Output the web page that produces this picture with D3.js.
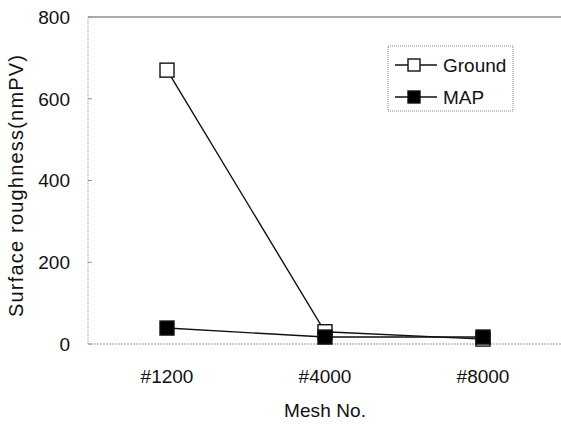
<!DOCTYPE html>
<html>
<head>
<meta charset="UTF-8">
<script src="https://d3js.org/d3.v7.min.js"></script>
<style>
  body { margin: 0; background: #fff; }
  text { font-family: "Liberation Sans", Arial, sans-serif; fill: #111; }
</style>
</head>
<body>
<div id="chart"></div>
<script>
// data
const meshes = ["#1200", "#4000", "#8000"];
const ground = [670, 30, 12];
const map = [39, 17, 17];
const yTicks = [0, 200, 400, 600, 800];

const W = 561, H = 426;
const margin = {top: 17, right: 0, bottom: 82, left: 88};
const width = W - margin.left - margin.right;
const height = H - margin.top - margin.bottom;

const svg = d3.select("#chart").append("svg")
  .attr("width", W).attr("height", H);
const g = svg.append("g").attr("transform", `translate(${margin.left},${margin.top})`);

const x = d3.scaleBand().domain(meshes).range([0, 474]);
const y = d3.scaleLinear().domain([0, 800]).range([height, 0]);
const cx = d => x(d) + x.bandwidth() / 2;

// frame: solid top, dotted grey left and bottom
g.append("line").attr("x1", 0).attr("x2", width).attr("y1", 0).attr("y2", 0)
  .attr("stroke", "#555").attr("stroke-width", 1);
g.append("line").attr("x1", 0).attr("x2", 0).attr("y1", 0).attr("y2", height)
  .attr("stroke", "#999").attr("stroke-dasharray", "1,1");
g.append("line").attr("x1", 0).attr("x2", width).attr("y1", height).attr("y2", height)
  .attr("stroke", "#999").attr("stroke-dasharray", "2,1");

// y axis ticks + labels
const yAxis = g.append("g");
yAxis.selectAll("line").data(yTicks).join("line")
  .attr("x1", 0).attr("x2", 4).attr("y1", d => y(d)).attr("y2", d => y(d))
  .attr("stroke", "#999");
yAxis.selectAll("text").data(yTicks).join("text")
  .attr("x", -18).attr("y", d => y(d)).attr("dy", "0.36em")
  .attr("text-anchor", "end").style("font-size", "19px")
  .text(d => d);

// x labels
g.selectAll(".xl").data(meshes).join("text").attr("class", "xl")
  .attr("x", d => cx(d)).attr("y", 376 - margin.top).attr("dy", "0.36em")
  .attr("text-anchor", "middle").style("font-size", "19px")
  .text(d => d);

svg.append("text").attr("x", 325).attr("y", 410).attr("dy", "0.36em")
  .attr("text-anchor", "middle").style("font-size", "19px")
  .attr("textLength", 82).text("Mesh No.");
svg.append("text").attr("transform", "translate(16,186) rotate(-90)")
  .attr("dy", "0.36em").attr("text-anchor", "middle").style("font-size", "20px")
  .attr("textLength", 262).text("Surface roughness(nmPV)");

// series
const line = d3.line().x((d, i) => cx(meshes[i])).y(d => y(d));
const series = [
  {name: "Ground", vals: ground, fill: "#fff"},
  {name: "MAP", vals: map, fill: "#000"}
];
series.forEach(s => {
  g.append("path").datum(s.vals).attr("d", line)
    .attr("fill", "none").attr("stroke", "#111").attr("stroke-width", 1.4);
});
series.forEach(s => {
  g.selectAll(null).data(s.vals).join("rect")
    .attr("x", (d, i) => cx(meshes[i]) - 7).attr("y", d => y(d) - 7)
    .attr("width", 14).attr("height", 14)
    .attr("fill", s.fill).attr("stroke", "#111").attr("stroke-width", 1.4);
});

// legend
const lg = svg.append("g").attr("transform", "translate(388,46)");
lg.append("rect").attr("width", 125).attr("height", 65)
  .attr("fill", "#fff").attr("stroke", "#888").attr("stroke-dasharray", "1,1");
series.forEach((s, i) => {
  const yy = 19 + i * 32;
  lg.append("line").attr("x1", 7).attr("x2", 49).attr("y1", yy).attr("y2", yy)
    .attr("stroke", "#111").attr("stroke-width", 1.4);
  lg.append("rect").attr("x", 20).attr("y", yy - 6).attr("width", 12).attr("height", 12)
    .attr("fill", s.fill).attr("stroke", "#111").attr("stroke-width", 1.4);
  lg.append("text").attr("x", 55).attr("y", yy).attr("dy", "0.36em")
    .style("font-size", "19px").text(s.name);
});
</script>
</body>
</html>
